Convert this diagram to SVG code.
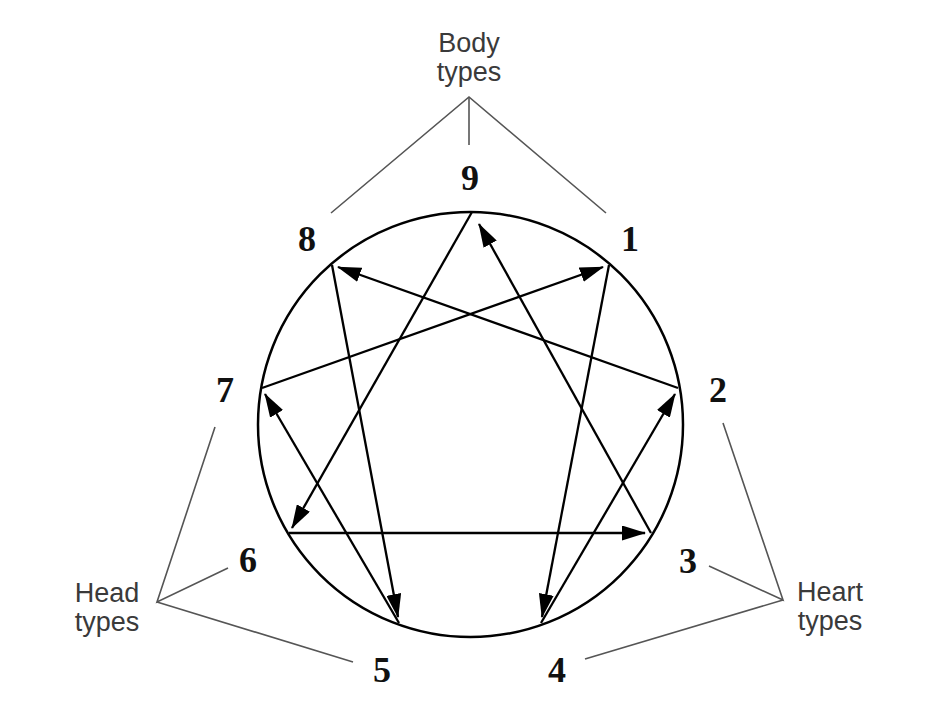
<svg xmlns="http://www.w3.org/2000/svg" width="950" height="725" viewBox="0 0 950 725">
<style>
.num{font-family:"Liberation Serif","Times New Roman",serif;font-weight:bold;font-size:36px;fill:#111;text-anchor:middle}
.grp{font-family:"Liberation Sans",Arial,sans-serif;font-size:27px;fill:#3a3a3a;text-anchor:middle}
.lead{stroke:#555;stroke-width:1.6;fill:none}
.arr{stroke:#000;stroke-width:2.3;fill:none;marker-end:url(#ah)}
</style>
<defs>
<marker id="ah" markerUnits="userSpaceOnUse" markerWidth="24" markerHeight="15" viewBox="0 0 24 15" refX="23" refY="7.5" orient="auto">
<path d="M0,0 L24,7.5 L0,15 z" fill="#000"/>
</marker>
</defs>
<rect width="950" height="725" fill="#fff"/>
<g id="circle">
<circle cx="470.5" cy="424.5" r="212.5" fill="none" stroke="#000" stroke-width="2.5"/>
</g>
<g id="connectors">
<line class="arr" x1="678" y1="388" x2="338" y2="267"/>
<line class="arr" x1="262" y1="388" x2="603" y2="267"/>
<line class="arr" x1="651" y1="533" x2="479" y2="224"/>
<line class="arr" x1="399" y1="623" x2="265" y2="394"/>
<line class="arr" x1="472" y1="212" x2="292" y2="528"/>
<line class="arr" x1="289" y1="533" x2="645" y2="533"/>
<line class="arr" x1="332" y1="265" x2="398" y2="617"/>
<line class="arr" x1="609" y1="265" x2="542" y2="617"/>
<line class="arr" x1="541" y1="623" x2="675" y2="394"/>
</g>
<g id="body-group">
<text class="grp" x="469" y="52">Body</text>
<text class="grp" x="469" y="81">types</text>
<polyline class="lead" points="331,213 469,97 606,213"/>
<line class="lead" x1="469" y1="97" x2="469" y2="145"/>
</g>
<g id="head-group">
<text class="grp" x="107" y="602">Head</text>
<text class="grp" x="107" y="631">types</text>
<polyline class="lead" points="215,427 157,602 228,568"/>
<line class="lead" x1="157" y1="602" x2="353" y2="662"/>
</g>
<g id="heart-group">
<text class="grp" x="830" y="601">Heart</text>
<text class="grp" x="830" y="630">types</text>
<polyline class="lead" points="723,423 783,600 709,566"/>
<line class="lead" x1="783" y1="600" x2="585" y2="659"/>
</g>
<g id="n9"><text class="num" x="470" y="190">9</text></g>
<g id="n1"><text class="num" x="630" y="251">1</text></g>
<g id="n2"><text class="num" x="718" y="402">2</text></g>
<g id="n3"><text class="num" x="688" y="573">3</text></g>
<g id="n4"><text class="num" x="557" y="682">4</text></g>
<g id="n5"><text class="num" x="382" y="682">5</text></g>
<g id="n6"><text class="num" x="248" y="572">6</text></g>
<g id="n7"><text class="num" x="225" y="402">7</text></g>
<g id="n8"><text class="num" x="307" y="251">8</text></g>
</svg>
